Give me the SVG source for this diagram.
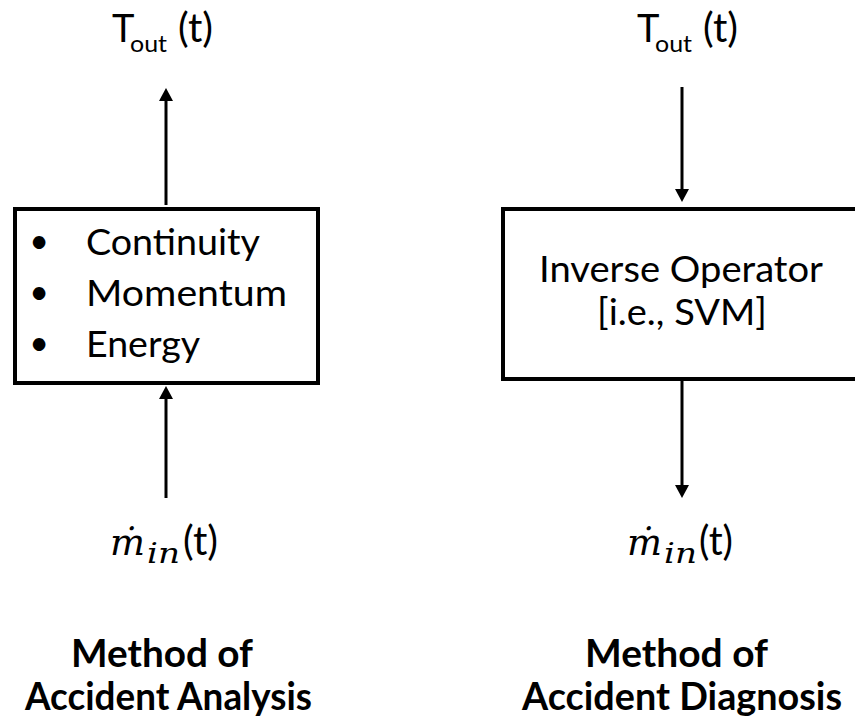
<svg xmlns="http://www.w3.org/2000/svg" width="855" height="725" viewBox="0 0 855 725">
<defs>
<style>
.box{fill:#fff;stroke:#000;stroke-width:4}
.conn{stroke:#000;stroke-width:3;fill:none}
.t{font-family:Lato,"Open Sans","Liberation Sans",sans-serif;fill:#000}
.m{font-family:"DejaVu Serif","Liberation Serif",serif;font-style:italic;fill:#000}
.title{font-family:Lato,"Open Sans","Liberation Sans",sans-serif;font-weight:bold;font-size:39px;fill:#000}
</style>
<marker id="ah" markerUnits="userSpaceOnUse" markerWidth="13" markerHeight="14" refX="0" refY="7" orient="auto" viewBox="0 0 13 14">
<path d="M0,0 L13,7 L0,14 z" fill="#000"/>
</marker>
</defs>
<rect width="855" height="725" fill="#fff"/>
<g id="connectors">
<line class="conn" x1="166" y1="205" x2="166" y2="101" marker-end="url(#ah)"/>
<line class="conn" x1="166" y1="498" x2="166" y2="399" marker-end="url(#ah)"/>
<line class="conn" x1="682" y1="87" x2="682" y2="189" marker-end="url(#ah)"/>
<line class="conn" x1="682" y1="381" x2="682" y2="485" marker-end="url(#ah)"/>
</g>
<g id="analysis-box">
<rect class="box" x="15" y="209" width="303" height="174"/>
<text class="t" font-size="34" x="39" y="253" text-anchor="middle">•</text>
<text class="t" font-size="34" x="39" y="304" text-anchor="middle">•</text>
<text class="t" font-size="34" x="39" y="355" text-anchor="middle">•</text>
<text class="t" font-size="37" x="86" y="255" textLength="174" lengthAdjust="spacingAndGlyphs">Continuity</text>
<text class="t" font-size="37" x="86" y="306" textLength="201" lengthAdjust="spacingAndGlyphs">Momentum</text>
<text class="t" font-size="37" x="86" y="357" textLength="114" lengthAdjust="spacingAndGlyphs">Energy</text>
</g>
<g id="inverse-box">
<rect class="box" x="503" y="209" width="362" height="170"/>
<text class="t" font-size="37" x="539" y="282" textLength="284" lengthAdjust="spacingAndGlyphs">Inverse Operator</text>
<text class="t" font-size="37" x="597" y="325" textLength="170" lengthAdjust="spacingAndGlyphs">[i.e., SVM]</text>
</g>
<g id="tout-left">
<text class="t" font-size="38" x="112" y="42">T</text>
<text class="t" font-size="23" x="130" y="52" textLength="37" lengthAdjust="spacingAndGlyphs">out</text>
<text class="t" font-size="41" x="178" y="42" textLength="35" lengthAdjust="spacingAndGlyphs">(t)</text>
</g>
<g id="tout-right">
<text class="t" font-size="38" x="637" y="42">T</text>
<text class="t" font-size="23" x="655" y="52" textLength="37" lengthAdjust="spacingAndGlyphs">out</text>
<text class="t" font-size="41" x="703" y="42" textLength="35" lengthAdjust="spacingAndGlyphs">(t)</text>
</g>
<g id="min-left">
<text class="m" font-size="37" x="110" y="555" textLength="35" lengthAdjust="spacingAndGlyphs">ṁ</text>
<text class="m" font-size="28" x="147" y="563" textLength="33" lengthAdjust="spacingAndGlyphs">in</text>
<text class="t" font-size="40" x="183" y="555" textLength="35" lengthAdjust="spacingAndGlyphs">(t)</text>
</g>
<g id="min-right">
<text class="m" font-size="37" x="627" y="555" textLength="35" lengthAdjust="spacingAndGlyphs">ṁ</text>
<text class="m" font-size="28" x="664" y="563" textLength="33" lengthAdjust="spacingAndGlyphs">in</text>
<text class="t" font-size="40" x="699" y="555" textLength="34" lengthAdjust="spacingAndGlyphs">(t)</text>
</g>
<g id="title-left">
<text class="title" x="71" y="667" textLength="182" lengthAdjust="spacingAndGlyphs">Method of</text>
<text class="title" x="25" y="710" textLength="287" lengthAdjust="spacingAndGlyphs">Accident Analysis</text>
</g>
<g id="title-right">
<text class="title" x="585" y="667" textLength="183" lengthAdjust="spacingAndGlyphs">Method of</text>
<text class="title" x="522" y="710" textLength="320" lengthAdjust="spacingAndGlyphs">Accident Diagnosis</text>
</g>
</svg>
